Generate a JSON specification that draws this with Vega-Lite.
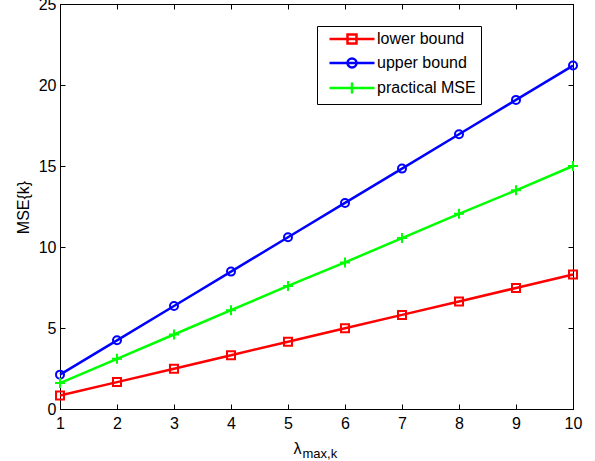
{
  "$schema": "https://vega.github.io/schema/vega-lite/v6.json",
  "width": 513,
  "height": 405,
  "autosize": {"type": "none"},
  "padding": {"left": 60, "top": 4, "right": 22, "bottom": 52},
  "background": "white",
  "config": {
    "font": "Liberation Sans",
    "view": {"stroke": "black", "strokeWidth": 1},
    "axis": {
      "domainColor": "black",
      "tickColor": "black",
      "labelColor": "black",
      "titleColor": "black",
      "labelFont": "Liberation Sans",
      "titleFont": "Liberation Sans",
      "labelFontSize": 16,
      "titleFontSize": 16,
      "titleFontWeight": "normal",
      "grid": false,
      "tickSize": -5,
      "labelFlush": false
    },
    "axisX": {"labelPadding": 11},
    "axisY": {"labelPadding": 9},
    "legend": {"labelFont": "Liberation Sans"}
  },
  "data": {
    "values": [
      {"k": 1, "series": "lower bound", "mse": 0.83},
      {"k": 2, "series": "lower bound", "mse": 1.66},
      {"k": 3, "series": "lower bound", "mse": 2.49},
      {"k": 4, "series": "lower bound", "mse": 3.32},
      {"k": 5, "series": "lower bound", "mse": 4.15},
      {"k": 6, "series": "lower bound", "mse": 4.98},
      {"k": 7, "series": "lower bound", "mse": 5.81},
      {"k": 8, "series": "lower bound", "mse": 6.64},
      {"k": 9, "series": "lower bound", "mse": 7.47},
      {"k": 10, "series": "lower bound", "mse": 8.3},
      {"k": 1, "series": "upper bound", "mse": 2.12},
      {"k": 2, "series": "upper bound", "mse": 4.24},
      {"k": 3, "series": "upper bound", "mse": 6.36},
      {"k": 4, "series": "upper bound", "mse": 8.48},
      {"k": 5, "series": "upper bound", "mse": 10.6},
      {"k": 6, "series": "upper bound", "mse": 12.72},
      {"k": 7, "series": "upper bound", "mse": 14.84},
      {"k": 8, "series": "upper bound", "mse": 16.96},
      {"k": 9, "series": "upper bound", "mse": 19.08},
      {"k": 10, "series": "upper bound", "mse": 21.2},
      {"k": 1, "series": "practical MSE", "mse": 1.6},
      {"k": 2, "series": "practical MSE", "mse": 3.1},
      {"k": 3, "series": "practical MSE", "mse": 4.6},
      {"k": 4, "series": "practical MSE", "mse": 6.1},
      {"k": 5, "series": "practical MSE", "mse": 7.6},
      {"k": 6, "series": "practical MSE", "mse": 9.05},
      {"k": 7, "series": "practical MSE", "mse": 10.55},
      {"k": 8, "series": "practical MSE", "mse": 12.05},
      {"k": 9, "series": "practical MSE", "mse": 13.5},
      {"k": 10, "series": "practical MSE", "mse": 15.0}
    ]
  },
  "resolve": {"axis": {"x": "independent", "y": "independent"}},
  "layer": [
    {
      "mark": {"type": "line", "strokeWidth": 2.5},
      "encoding": {
        "x": {
          "field": "k", "type": "quantitative",
          "scale": {"domain": [1, 10], "nice": false, "zero": false},
          "axis": {"orient": "bottom", "values": [1,2,3,4,5,6,7,8,9,10], "title": "λ", "titleFontSize": 16,
                   "titleX": 237, "titleY": 44, "titleAlign": "center", "titleBaseline": "alphabetic"}
        },
        "y": {
          "field": "mse", "type": "quantitative",
          "scale": {"domain": [0, 25], "nice": false},
          "axis": {"orient": "left", "values": [0,5,10,15,20,25], "title": "MSE{k}", "titleFontSize": 16,
                   "titleX": -32, "titleY": 203, "titleAngle": 270, "titleAlign": "center", "titleBaseline": "alphabetic"}
        },
        "color": {
          "field": "series", "type": "nominal",
          "scale": {"domain": ["lower bound", "upper bound", "practical MSE"], "range": ["#ff0000", "#0000ff", "#00ff00"]},
          "legend": {
            "title": null,
            "orient": "none",
            "legendX": 257,
            "legendY": 22,
            "strokeColor": "black",
            "fillColor": "white",
            "padding": 5,
            "labelFontSize": 16,
            "labelColor": "black",
            "labelOffset": 34.5,
            "symbolOffset": 4.5,
            "symbolSize": 100,
            "symbolStrokeWidth": 2.5,
            "rowPadding": 4,
            "encode": {
              "legend": {
                "update": {
                  "stroke": {"value": "black"},
                  "strokeWidth": {"value": 1},
                  "fill": {"value": "white"}
                }
              },
              "symbols": {
                "update": {
                  "shape": {"signal": "datum.value === 'lower bound' ? 'M-1,0H8M2.6,-0.9H4.4V0.9H2.6Z' : datum.value === 'upper bound' ? 'M-1,0H8M4.4,0A0.9,0.9,0,1,1,2.6,0A0.9,0.9,0,1,1,4.4,0' : 'M-1,0H8M3.5,-1.1V1.1'"},
                  "size": {"value": 100},
                  "fill": {"value": "transparent"},
                  "strokeWidth": {"value": 2.5},
                  "opacity": {"value": 1}
                }
              }
            }
          }
        }
      }
    },
    {
      "transform": [{"filter": "datum.series === 'lower bound'"}],
      "mark": {"type": "point", "filled": false, "strokeWidth": 2, "size": 64, "opacity": 1, "shape": "square"},
      "encoding": {
        "x": {
          "field": "k", "type": "quantitative",
          "axis": {"orient": "bottom", "labels": false, "ticks": false, "domain": false, "title": "max,k", "titleFontSize": 13,
                   "titleX": 242, "titleY": 48, "titleAlign": "left", "titleBaseline": "alphabetic"}
        },
        "y": {"field": "mse", "type": "quantitative", "axis": null},
        "color": {"field": "series", "type": "nominal"}
      }
    },
    {
      "transform": [{"filter": "datum.series === 'upper bound'"}],
      "mark": {"type": "point", "filled": false, "strokeWidth": 2, "size": 64, "opacity": 1, "shape": "circle"},
      "encoding": {
        "x": {
          "field": "k", "type": "quantitative",
          "axis": {"orient": "top", "values": [1,2,3,4,5,6,7,8,9,10], "labels": false, "title": null}
        },
        "y": {
          "field": "mse", "type": "quantitative",
          "axis": {"orient": "right", "values": [0,5,10,15,20,25], "labels": false, "title": null}
        },
        "color": {"field": "series", "type": "nominal"}
      }
    },
    {
      "transform": [{"filter": "datum.series === 'practical MSE'"}],
      "mark": {"type": "point", "filled": false, "strokeWidth": 2, "size": 100, "opacity": 1, "shape": "M-1,0H1M0,-1V1"},
      "encoding": {
        "x": {"field": "k", "type": "quantitative", "axis": null},
        "y": {"field": "mse", "type": "quantitative", "axis": null},
        "color": {"field": "series", "type": "nominal"}
      }
    }
  ]
}
